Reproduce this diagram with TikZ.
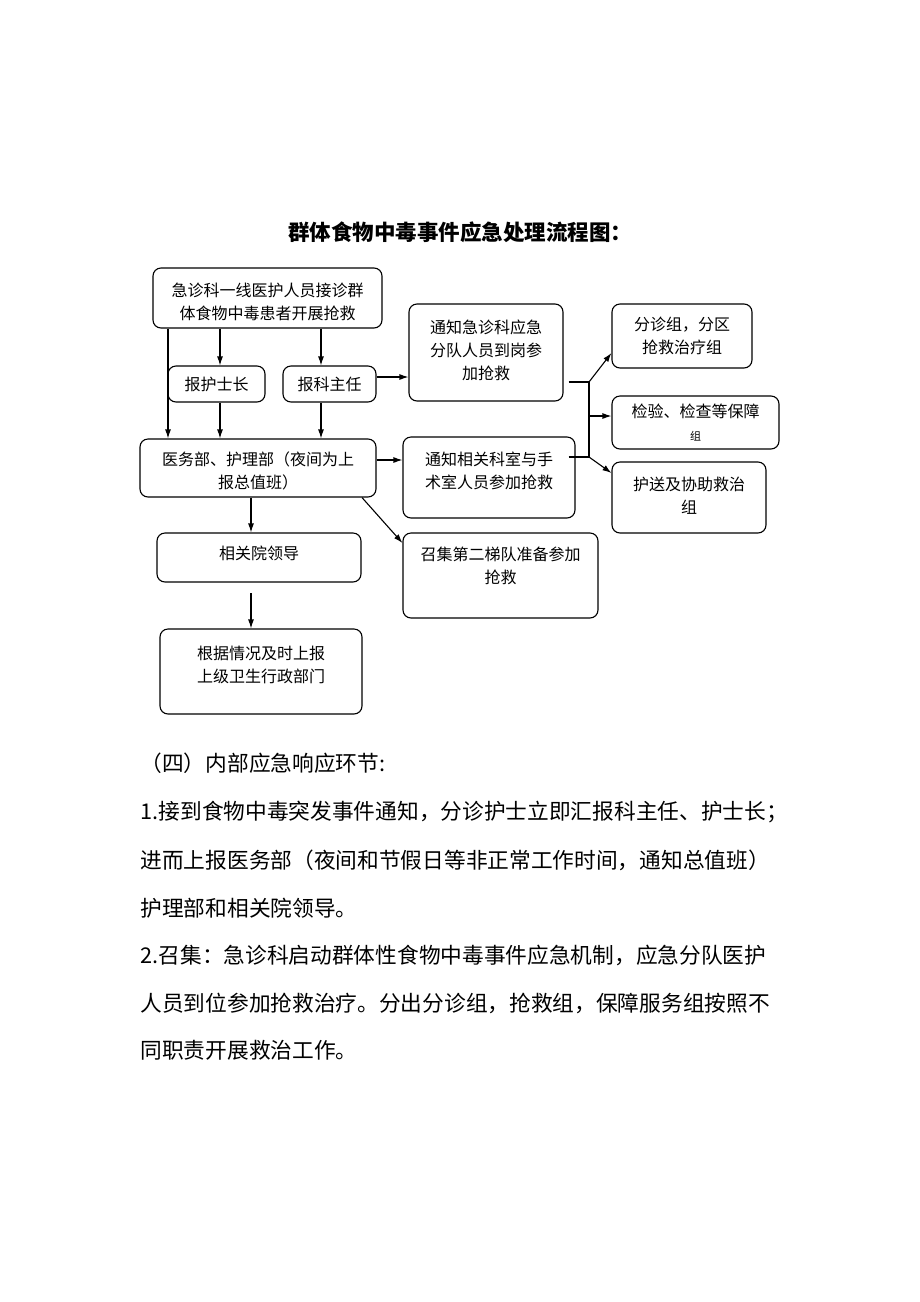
\documentclass[tikz,border=0pt]{standalone}
\usepackage{fontspec}
\setmainfont{Noto Sans CJK SC}
\usetikzlibrary{arrows.meta}
\begin{document}
\begin{tikzpicture}[x=1pt,y=-1pt,->,>={Latex[length=9pt,width=6pt]},line width=1.1pt]
        \tikzstyle{box}=[draw,rounded corners=8pt,align=center,inner sep=2pt,font=\fontsize{16}{23}\selectfont]
        \tikzstyle{busline}=[draw,-]
        \tikzstyle{paraline}=[anchor=west,inner sep=0pt,font=\fontsize{21.7}{24}\selectfont]
        \useasboundingbox (0,0) rectangle (920,1302);
        \node [font=\bfseries\fontsize{21.5}{24}\selectfont] (title) at (460,232) {群体食物中毒事件应急处理流程图：};
        % left column
        \node [box,minimum width=229pt,minimum height=60pt,text height=44pt] (first) at (267.5,298) {急诊科一线医护人员接诊群\\体食物中毒患者开展抢救};
        \node [box,minimum width=97pt,minimum height=36pt] (nurse) at (216.5,384) {报护士长};
        \node [box,minimum width=93pt,minimum height=36pt] (dir) at (329.5,384) {报科主任};
        \node [box,minimum width=236pt,minimum height=58pt,text height=43pt] (med) at (258,468) {医务部、护理部（夜间为上\\报总值班）};
        \node [box,minimum width=204pt,minimum height=49pt,text depth=9pt] (lead) at (259,557.5) {相关院领导};
        \node [box,minimum width=202pt,minimum height=85pt,text depth=14pt] (rep) at (261,671.5) {根据情况及时上报\\上级卫生行政部门};
        % middle column
        \node [box,minimum width=154pt,minimum height=97pt,text depth=5pt] (n1) at (486,352.5) {通知急诊科应急\\分队人员到岗参\\加抢救};
        \node [box,minimum width=172pt,minimum height=81pt,text depth=14pt] (n2) at (489,477.5) {通知相关科室与手\\术室人员参加抢救};
        \node [box,minimum width=195pt,minimum height=85pt,text depth=20pt] (sec) at (500.5,575.5) {召集第二梯队准备参加\\抢救};
        % right column
        \node [box,minimum width=140pt,minimum height=64pt] (tri) at (682,336) {分诊组，分区\\抢救治疗组};
        \node [box,minimum width=167pt,minimum height=53pt] (lab) at (695.5,422.5) {检验、检查等保障\\{\fontsize{11}{12}\selectfont 组}};
        \node [box,minimum width=154pt,minimum height=71pt,text depth=5pt] (esc) at (689,497.5) {护送及协助救治\\组};
        % helper points
        \coordinate (colA) at (168,0);
        \coordinate (colN) at (220,0);
        \coordinate (colB) at (251,0);
        \coordinate (colC) at (321,0);
        \coordinate (colD) at (362,0);
        \coordinate (rowA) at (0,377);
        \coordinate (rowB) at (0,460);
        \coordinate (rowC) at (0,543);
        \coordinate (rowT) at (0,353);
        \coordinate (rowE) at (0,473);
        \coordinate (gapTop) at (251,593);
        \coordinate (busT) at (589,382);
        \coordinate (busM) at (589,416);
        \coordinate (busB) at (589,457);
        % arrows
        \draw (colA |- first.south) -- (colA |- med.north);
        \draw (colN |- first.south) -- (colN |- nurse.north);
        \draw (colN |- nurse.south) -- (colN |- med.north);
        \draw (colC |- first.south) -- (colC |- dir.north);
        \draw (colC |- dir.south) -- (colC |- med.north);
        \draw (dir.east |- rowA) -- (n1.west |- rowA);
        \draw (med.east |- rowB) -- (n2.west |- rowB);
        \draw (colD |- med.south) -- (sec.west |- rowC);
        \draw (colB |- med.south) -- (colB |- lead.north);
        \draw (gapTop) -- (gapTop |- rep.north);
        \path[busline] (n1.east |- busT) ++(5,0) -- (busT) -- (busB);
        \path[busline] (n2.east |- busB) ++(-7,0) -- (busB);
        \draw (busT) -- (tri.west |- rowT);
        \draw (busM) -- (busM -| lab.west);
        \draw (busB) -- (esc.west |- rowE);
        % text below
        \node [paraline] (l0) at (140,763) {（四）内部应急响应环节:};
        \node [paraline] (l1) at (140,812) {1.接到食物中毒突发事件通知，分诊护士立即汇报科主任、护士长；};
        \node [paraline] (l2) at (140,860) {进而上报医务部（夜间和节假日等非正常工作时间，通知总值班）};
        \node [paraline] (l3) at (140,908) {护理部和相关院领导。};
        \node [paraline] (l4) at (140,955) {2.召集：急诊科启动群体性食物中毒事件应急机制，应急分队医护};
        \node [paraline] (l5) at (140,1003) {人员到位参加抢救治疗。分出分诊组，抢救组，保障服务组按照不};
        \node [paraline] (l6) at (140,1050) {同职责开展救治工作。};
\end{tikzpicture}
\end{document}
